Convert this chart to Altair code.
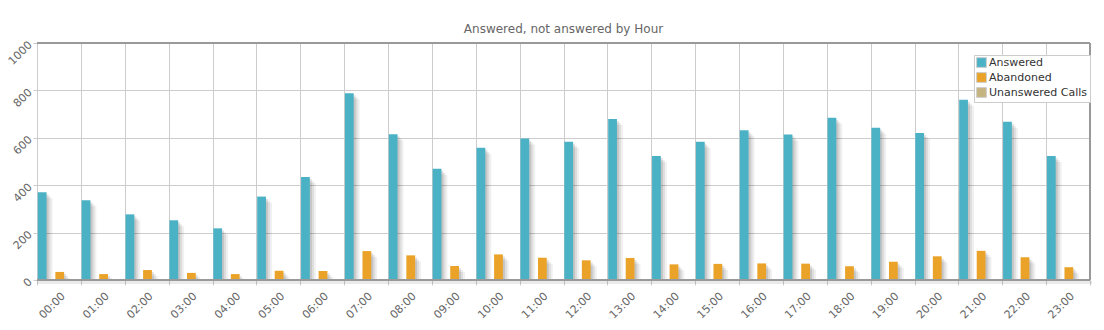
import altair as alt
import pandas as pd

hours = [f"{h:02d}:00" for h in range(24)]
answered = [370, 336, 277, 252, 218, 352, 435, 788, 615, 469, 558, 597,
            583, 679, 523, 583, 632, 614, 685, 642, 620, 761, 668, 523]
abandoned = [34, 25, 42, 30, 25, 39, 38, 122, 104, 59, 108, 94,
             83, 93, 66, 68, 70, 69, 58, 77, 100, 123, 96, 54]
unanswered = [0] * 24
series = ["Answered", "Abandoned", "Unanswered Calls"]
colors = ["#4bb2c5", "#eaa228", "#c5b47f"]

rows = []
for i, h in enumerate(hours):
    for s, vals in zip(series, [answered, abandoned, unanswered]):
        rows.append({"hour": h, "series": s, "value": vals[i]})
df = pd.DataFrame(rows)

W, H = 1053, 237
BAND = W / 24

x_enc = alt.X("hour:N", sort=hours, title=None,
              scale=alt.Scale(paddingInner=0, paddingOuter=0),
              axis=alt.Axis(tickBand="extent", labelAngle=-45, labelColor="#666666",
                            labelFont="DejaVu Sans", labelFontSize=11, tickColor="#cccccc",
                            tickSize=5, gridColor="#cccccc", grid=True, domain=False,
                            labelPadding=5))
y_enc = alt.Y("value:Q", title=None,
              scale=alt.Scale(domain=[0, 1000], nice=False),
              axis=alt.Axis(values=[0, 200, 400, 600, 800, 1000], labelAngle=-45,
                            format="d",
                            labelColor="#666666", labelFont="DejaVu Sans", labelFontSize=11,
                            tickColor="#cccccc", tickSize=4, gridColor="#cccccc",
                            domain=False, labelPadding=3))


def xo(shift):
    return alt.XOffset("series:N", sort=series,
                       scale=alt.Scale(domain=series, paddingInner=0.5, paddingOuter=0,
                                       range=[shift + 0.8, shift + 0.8 + BAND]))


base = alt.Chart(df)

layers = []
for off, op in [(2, 0.11), (4, 0.08), (6, 0.06)]:
    layers.append(base.mark_bar(color="#000000", opacity=op, yOffset=off, clip=True).encode(
        x=x_enc, y=y_enc, xOffset=xo(off)))

bars = base.mark_bar(clip=True).encode(
    x=x_enc, y=y_enc, xOffset=xo(0),
    color=alt.Color("series:N", sort=series,
                    scale=alt.Scale(domain=series, range=colors),
                    legend=alt.Legend(title=None, orient="none", legendX=937, legendY=12,
                                      symbolType="square", symbolSize=95,
                                      symbolStrokeColor="#cccccc", symbolStrokeWidth=1,
                                      labelFont="DejaVu Sans", labelFontSize=11,
                                      labelColor="#333333", rowPadding=0, padding=2,
                                      labelOffset=2,
                                      strokeColor="#cccccc", fillColor="#ffffff",
                                      labelLimit=200)),
)
layers.append(bars)

border_df = pd.DataFrame({"a": [0]})
layers.append(alt.Chart(border_df).mark_rule(color="#000000", opacity=0.08, strokeWidth=3).encode(
    x=alt.value(0), x2=alt.value(W + 2), y=alt.value(H + 2.5)))
layers.append(alt.Chart(border_df).mark_rule(color="#999999", strokeWidth=2).encode(
    x=alt.value(0), x2=alt.value(W), y=alt.value(0)))
layers.append(alt.Chart(border_df).mark_rule(color="#999999", strokeWidth=2).encode(
    x=alt.value(W), y=alt.value(0), y2=alt.value(H)))
layers.append(alt.Chart(border_df).mark_rule(color="#999999", strokeWidth=2).encode(
    x=alt.value(0), x2=alt.value(W), y=alt.value(H)))

chart = alt.layer(*layers).resolve_scale(xOffset="independent").properties(
    width=W, height=H,
    title=alt.TitleParams("Answered, not answered by Hour", fontSize=12, fontWeight="normal",
                          color="#666666", font="DejaVu Sans", offset=3, anchor="middle"),
    autosize=alt.AutoSizeParams(type="none"),
    padding={"left": 37, "top": 43, "right": 14, "bottom": 50},
).configure_view(stroke=None, fill="#fffdf6").configure(background="#ffffff")

chart.save("out.html", embed_options={"renderer": "svg", "actions": False})
